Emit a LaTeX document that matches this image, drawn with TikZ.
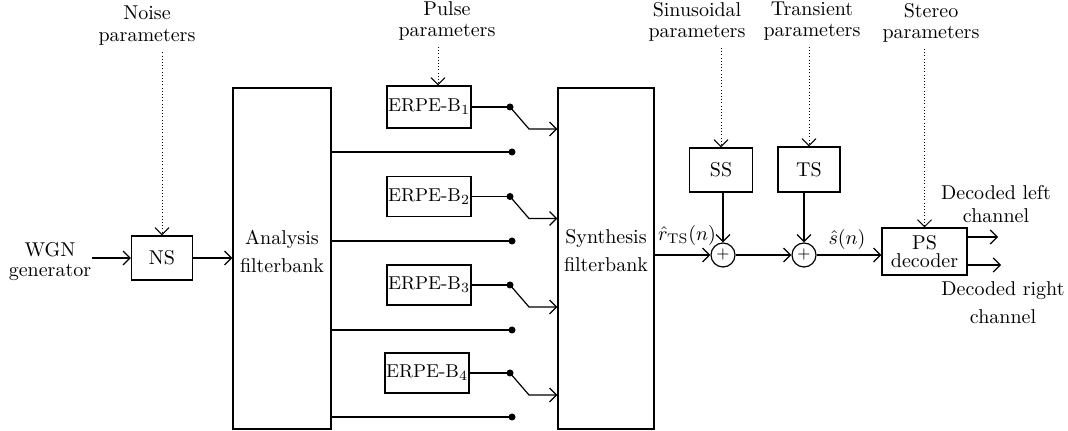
\documentclass[tikz,border=0pt]{standalone}
\usetikzlibrary{arrows.meta}
\begin{document}
\begin{tikzpicture}[x=0.5pt,y=-0.5pt,line width=0.6pt,
  blk/.style={draw,inner sep=0pt,align=center},
  lbl/.style={align=center,inner sep=0pt},
  erpe/.style={draw,inner sep=0pt,font=\fontsize{9.3}{11}\selectfont},
  dot/.style={circle,fill,inner sep=0pt,minimum size=3.5pt},
  sumnode/.style={circle,draw,inner sep=0pt,minimum size=12pt,font=\footnotesize},
  arr/.style={-{Straight Barb[length=3.5pt,width=7pt]}},
  dotarr/.style={-{Straight Barb[length=3.5pt,width=7pt]},line width=0.5pt,dash pattern=on 0.5pt off 1.1pt,shorten <=3pt}]
\useasboundingbox (0,0) rectangle (1068,431);
% top labels
\node[lbl] (npar) at (147,26) {Noise\\[-1pt]parameters};
\node[lbl] (ppar) at (447,21) {Pulse\\[-1.5pt]parameters};
\node[lbl] (spar) at (697,22) {Sinusoidal\\[-1.5pt]parameters};
\node[lbl] (tpar) at (812,21) {Transient\\[-1.5pt]parameters};
\node[lbl] (stpar) at (931,23) {Stereo\\[-1.5pt]parameters};
% left
\node[lbl] (wgn) at (50,262) {WGN\\[-2pt]generator};
\node[blk,minimum width=30.5pt,minimum height=22pt] (ns) at (162,258) {NS};
\node[blk,minimum width=49pt,minimum height=170.5pt] (ana) at (282,258.5) {};
\node[lbl] (anat) at (282,251) {Analysis\\[2pt]filterbank};
\node[blk,minimum width=48pt,minimum height=170.5pt] (syn) at (606,258.5) {};
\node[lbl] (synt) at (606,251) {Synthesis\\[2pt]filterbank};
% ERPE boxes
\node[erpe,minimum width=42pt,minimum height=21pt] (e1) at (429,107) {ERPE-B$_1$};
\node[erpe,minimum width=42pt,minimum height=20pt] (e2) at (429,196.5) {ERPE-B$_2$};
\node[erpe,minimum width=42pt,minimum height=20pt] (e3) at (429,285) {ERPE-B$_3$};
\node[erpe,minimum width=42pt,minimum height=20pt] (e4) at (427,373) {ERPE-B$_4$};
% switch dots
\node[dot] (d1) at (510,107) {};
\node[dot] (d2) at (510,196.5) {};
\node[dot] (d3) at (510,285) {};
\node[dot] (d4) at (510,373) {};
\coordinate (c1) at (529,129);
\coordinate (c2) at (529,218.5);
\coordinate (c3) at (529,307);
\coordinate (c4) at (529,395);
\node[dot] (b1) at (512,152) {};
\node[dot] (b2) at (512,241) {};
\node[dot] (b3) at (512,330) {};
\node[dot] (b4) at (512,417) {};
% right part
\node[blk,minimum width=31.5pt,minimum height=22pt] (ss) at (721,170) {SS};
\node[blk,minimum width=31pt,minimum height=22.5pt] (ts) at (809,169.5) {TS};
\node[sumnode] (s1) at (723,255) {$+$};
\node[sumnode] (s2) at (804,255) {$+$};
\node[blk,minimum width=42.5pt,minimum height=23.5pt] (ps) at (924.5,251.5) {PS\\[-3pt]decoder};
\coordinate (ol) at (998,237);
\coordinate (orr) at (1001,265);
\node[lbl] (dleft) at (996,204.5) {Decoded left\\[-0.5pt]channel};
\node[lbl] (dright) at (1003,303) {Decoded right\\[2pt]channel};
\node[lbl] (rlab) at (687,236) {$\hat{r}_{\mathrm{TS}}(n)$};
\node[lbl] (slab) at (847,240) {$\hat{s}(n)$};
% connectors
\draw[arr] (wgn.east |- ns) -- (ns.west);
\draw[arr] (ns.east) -- (ns.east -| ana.west);
\draw[dotarr] (npar.south -| ns) -- (ns.north);
\coordinate (p1) at ([xshift=4.5pt]e1.north);
\draw[dotarr] (ppar.south -| p1) -- (p1);
\foreach \i in {1,2,3,4}{
  \draw (e\i.east) -- (d\i.center);
  \draw[arr] (d\i.center) -- (c\i) -- (c\i -| syn.west);
  \draw (ana.east |- b\i) -- (b\i.center);
}
\draw[arr] (syn.east |- s1) -- (s1.west);
\draw[arr] (s1.east) -- (s2.west);
\draw[arr] (s2.east) -- (s2 -| ps.west);
\draw[arr] (ss.south -| s1) -- (s1.north);
\draw[arr] (ts.south -| s2) -- (s2.north);
\draw[dotarr] (spar.south -| ss) -- (ss.north);
\draw[dotarr] (tpar.south -| ts) -- (ts.north);
\draw[dotarr] (stpar.south -| ps) -- (ps.north);
\draw[arr] (ps.east |- ol) -- (ol);
\draw[arr] (ps.east |- orr) -- (orr);
\end{tikzpicture}
\end{document}
